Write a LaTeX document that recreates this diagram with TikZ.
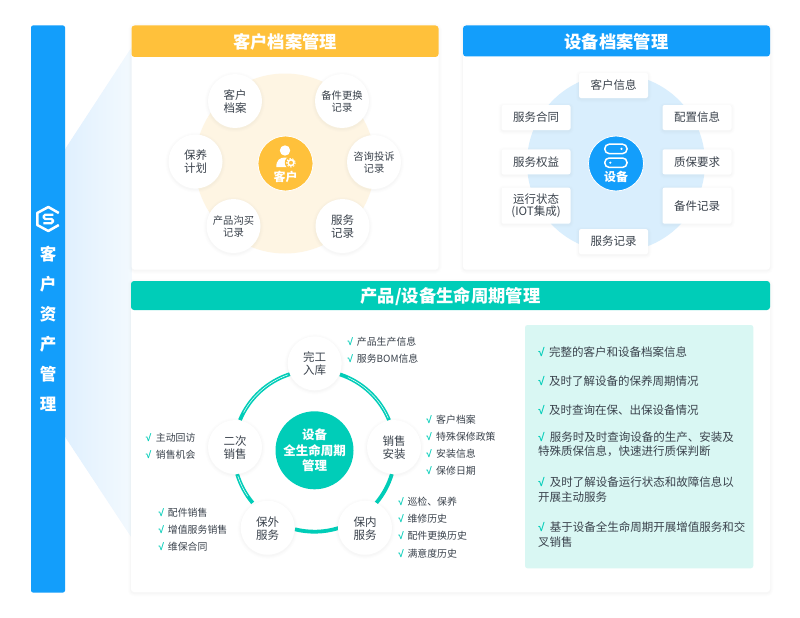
\documentclass[tikz,border=0pt]{standalone}
\usepackage{fontspec}
\setmainfont{Noto Sans CJK SC}
\newfontfamily\tickfont{Liberation Sans}
\usetikzlibrary{calc}
\definecolor{barblue}{HTML}{139EFB}
\definecolor{amber}{HTML}{FFC13B}
\definecolor{teal}{HTML}{00CDB8}
\definecolor{palebeige}{HTML}{FEF5E3}
\definecolor{paleblue}{HTML}{D9EEFD}
\definecolor{palegreen}{HTML}{D9F7F3}
\definecolor{ink}{HTML}{3A424C}
\definecolor{fanblue}{HTML}{E0F0FE}
\newcommand{\fs}[1]{\fontsize{#1}{#1}\selectfont}
\tikzset{
  softglow/.style={
    preaction={draw=black!40,line width=6pt,opacity=.015,transform canvas={yshift=-1pt}},
    preaction={draw=black!40,line width=4pt,opacity=.02,transform canvas={yshift=-1pt}},
    preaction={draw=black!40,line width=2pt,opacity=.03,transform canvas={yshift=-1pt}}},
  card/.style={fill=white,rounded corners=3pt,softglow},
  headtitle/.style={text=white,font=\fs{17.3}\bfseries,inner sep=0pt},
  bubble/.style={circle,fill=white,minimum size=54pt,inner sep=0pt,softglow,text=ink,align=center,font=\fs{11.5},text depth=0pt},
  smallbubble/.style={bubble,font=\fs{10.3}},
  hub/.style={circle,draw=white,line width=.8pt,minimum size=55pt,inner sep=0pt,text=white,font=\fs{12}\bfseries},
  tag/.style={fill=white,rounded corners=2pt,softglow,minimum width=69pt,inner sep=0pt,text=ink,align=center,font=\fs{11.5}},
  item/.style={anchor=west,inner sep=0pt,text=ink,font=\fs{9.9}},
  tick/.style={inner sep=0pt,text=teal,font=\tickfont\fs{10}\bfseries},
  note/.style={anchor=west,inner sep=0pt,text=ink,font=\fs{11.5}},
  ringarc/.style={draw=teal,line width=3.8pt},
  ringline/.style={draw=white,line width=.5pt},
  sideword/.style={inner sep=0pt,text=white,font=\fs{16.5}\bfseries},
}
\begin{document}
\begin{tikzpicture}[x=1pt,y=1pt,yscale=-1]
\useasboundingbox (0,0) rectangle (800,618);
\fill[white] (0,0) rectangle (800,618);
% fan behind the cards: a horizontal fade built from strips
\begin{scope}
\clip (65,149.5) -- (132,47) -- (132,538) -- (65,436.5) -- cycle;
\foreach \i in {0,...,66}{
  \pgfmathsetmacro{\p}{100-\i*0.9}
  \fill[fanblue!\p!white] (65+\i,40) rectangle (66.6+\i,545);
}
\end{scope}
% side bar
\node[fill=barblue,rounded corners=2pt,minimum width=34pt,minimum height=567pt,inner sep=0pt] (bar) at (48,309) {};
% hexagon mark
\coordinate (hexc) at (48.3,219);
\draw[white,line width=2.5pt,line join=round] ($(hexc)+(10.5,-6)$) -- ($(hexc)+(0,-12)$) -- ($(hexc)+(-11,-6)$) -- ($(hexc)+(-11,6)$) -- ($(hexc)+(0,12)$) -- ($(hexc)+(10.5,6)$);
\draw[white,line width=2.3pt,rounded corners=1.5pt] ($(hexc)+(5,-4.2)$) -- ($(hexc)+(-4.6,-4.2)$) -- ($(hexc)+(-4.6,0)$) -- ($(hexc)+(4.6,0)$) -- ($(hexc)+(4.6,4.2)$) -- ($(hexc)+(-5,4.2)$);
\node[sideword] (w1) at (48,254) {客};
\node[sideword] (w2) at (48,284) {户};
\node[sideword] (w3) at (48,314) {资};
\node[sideword] (w4) at (48,344) {产};
\node[sideword] (w5) at (48,374) {管};
\node[sideword] (w6) at (48,404) {理};
% card 1
\path[card] (131.5,25.5) rectangle (438.5,269.5);
\fill[amber,rounded corners=3pt] (131.5,57) -- (131.5,25.5) -- (438.5,25.5) -- (438.5,57) -- cycle;
\node[headtitle] (t1) at (285,41.8) {客户档案管理};
\node[circle,fill=palebeige,minimum size=180pt,inner sep=0pt] (halo1) at (285,163.5) {};
\node[hub,fill=amber] (cust) at (285.5,163.5) {};
\fill[white] (285,150.5) circle (5.2);
\fill[white] (276.3,167) .. controls (276.3,160) and (280,157.5) .. (285,157.5) .. controls (287,157.5) and (288.5,158) .. (289.5,159) -- (287,167) -- cycle;
\fill[amber] (291,162.7) circle (6.2);
\draw[white,line width=1.5pt] (291,162.7) circle (2.9);
\draw[white,line width=1pt,dash pattern=on 1.5pt off 1.5pt] (291,162.7) circle (4.3);
\node[inner sep=0pt,text=white,font=\fs{12}\bfseries] (custl) at (285.5,177) {客户};
\node[bubble] (a1) at (235,101) {客户\\[1.5pt]档案};
\node[smallbubble] (a2) at (342,101) {备件更换\\[2pt]记录};
\node[bubble] (a3) at (195.5,161.5) {保养\\[1.5pt]计划};
\node[smallbubble] (a4) at (374,162) {咨询投诉\\[2pt]记录};
\node[smallbubble] (a5) at (233.5,226) {产品沟买\\[2pt]记录};
\node[bubble] (a6) at (342.5,226) {服务\\[1.5pt]记录};
% card 2
\path[card] (463,25.5) rectangle (770,269.5);
\fill[barblue,rounded corners=3pt] (463,56.5) -- (463,25.5) -- (770,25.5) -- (770,56.5) -- cycle;
\node[headtitle] (t2) at (616.5,41.8) {设备档案管理};
\node[circle,fill=paleblue,minimum size=178pt,inner sep=0pt] (halo2) at (616,163) {};
\node[hub,fill=barblue] (dev) at (616,163.5) {};
\draw[white,line width=1.5pt,rounded corners=4.4pt] (604.8,144.2) rectangle (627,153.6);
\fill[white] (621.5,148.9) circle (1.2);
\draw[white,line width=1.5pt,rounded corners=4.4pt] (604.8,158) rectangle (627,167.4);
\fill[white] (610.3,162.7) circle (1.2);
\node[inner sep=0pt,text=white,font=\fs{12}\bfseries] (devl) at (616,177) {设备};
\node[tag,minimum height=25pt] (b1) at (613.5,85.5) {客户信息};
\node[tag,minimum height=25pt] (b2) at (536,117.5) {服务合同};
\node[tag,minimum height=25pt] (b3) at (697,117.5) {配置信息};
\node[tag,minimum height=25pt] (b4) at (536,161.8) {服务权益};
\node[tag,minimum height=25pt] (b5) at (697,161.8) {质保要求};
\node[tag,minimum height=36pt] (b6) at (536,205.7) {运行状态\\[1pt](IOT集成)};
\node[tag,minimum height=36pt] (b7) at (697,205.7) {备件记录};
\node[tag,minimum height=25pt] (b8) at (613.5,241.6) {服务记录};
% card 3
\path[card] (131,281) rectangle (770,592);
\fill[teal,rounded corners=3pt] (131,310) -- (131,281) -- (770,281) -- (770,310) -- cycle;
\node[headtitle] (t3) at (450.5,296.5) {产品/设备生命周期管理};
% ring
\coordinate (rc) at (314.5,451);
\foreach \s/\e in {-71.6/-22.5,16.6/40,72.9/104,140/163.4,-157.5/-107.7}{
  \draw[ringarc] ($(rc)+(\s:80.7)$) arc[start angle=\s,end angle=\e,radius=80.7];
}
\foreach \s/\e in {-71.6/-22.5,140/163.4,-157.5/-107.7}{
  \draw[ringline] ($(rc)+(\s+6:80.7)$) arc[start angle=\s+6,end angle=\e-1.5,radius=80.7];
}
\node[circle,fill=teal,minimum size=78pt,inner sep=0pt,text=white,align=center,font=\fs{12.5}\bfseries] (life) at (314.5,450.3) {设备\\[3pt]全生命周期\\[3pt]管理};
\node[bubble] (c1) at (314.7,363.3) {完工\\[1.5pt]入库};
\node[bubble] (c2) at (394,447) {销售\\[1.5pt]安装};
\node[bubble] (c3) at (365,527.7) {保内\\[1.5pt]服务};
\node[bubble] (c4) at (267.7,527.7) {保外\\[1.5pt]服务};
\node[bubble] (c5) at (235,447) {二次\\[1.5pt]销售};
% lists
\foreach \n/\tx/\lx/\y/\s in {
 l1/350.3/356.7/341.7/产品生产信息, l2/350.3/356.7/359/服务BOM信息,
 l3/429/436/420/客户档案, l4/429/436/437/特殊保修政策, l5/429/436/454/安装信息, l6/429/436/471/保修日期,
 l7/401/407.3/502/巡检、保养, l8/401/407.3/519/维修历史, l9/401/407.3/536/配件更换历史, l10/401/407.3/553.3/满意度历史,
 l11/161.3/167.7/513/配件销售, l12/161.3/167.7/530/增值服务销售, l13/161.3/167.7/547/维保合同,
 l14/148.7/155.7/438/主动回访, l15/148.7/155.7/455/销售机会}{
  \node[tick] (\n c) at (\tx,\y) {√};
  \node[item] (\n) at (\lx,\y) {\s};
}
% note panel
\fill[palegreen,rounded corners=2.5pt] (525,325) rectangle (753.3,568.3);
\foreach \n/\y/\s in {n1/352.3/完整的客户和设备档案信息, n2/381/及时了解设备的保养周期情况, n3/409.7/及时查询在保、出保设备情况}{
  \node[tick,font=\tickfont\fs{11.5}\bfseries] (\n c) at (541.5,\y) {√};
  \node[note] (\n) at (549,\y) {\s};
}
\foreach \n/\y/\s in {n4/436.7/服务时及时查询设备的生产、安装及, n5/482/及时了解设备运行状态和故障信息以, n6/527.3/基于设备全生命周期开展增值服务和交}{
  \node[tick,font=\tickfont\fs{11.5}\bfseries] (\n c) at (541.5,\y) {√};
  \node[note] (\n) at (549.7,\y) {\s};
}
\node[note] (n4b) at (538,451.7) {特殊质保信息\symbol{"FF0C}快速进行质保判断};
\node[note] (n5b) at (538,497.3) {开展主动服务};
\node[note] (n6b) at (538,542.3) {叉销售};
\end{tikzpicture}
\end{document}
